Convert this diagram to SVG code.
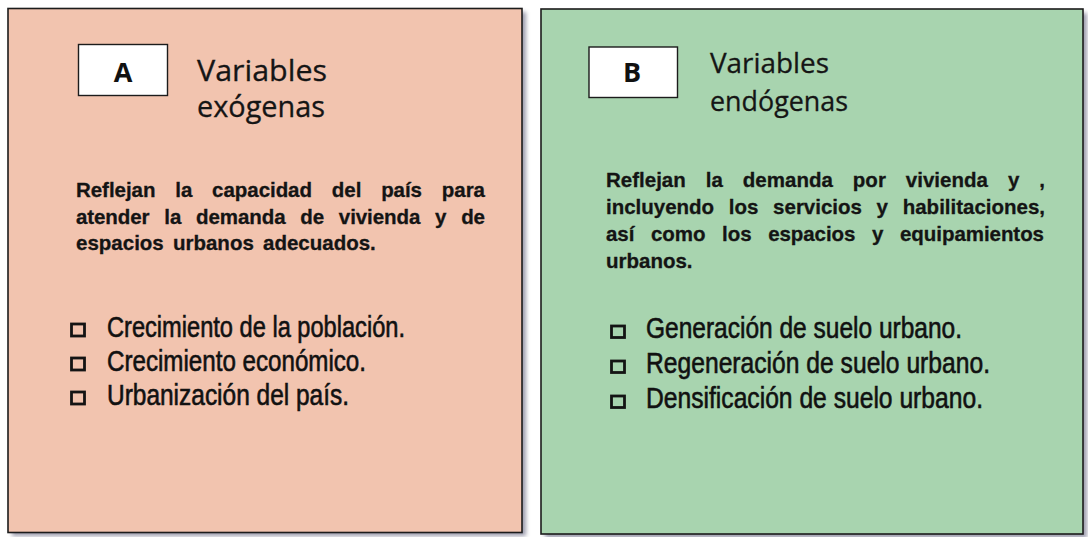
<svg xmlns="http://www.w3.org/2000/svg" width="1088" height="537" viewBox="0 0 1088 537">
<defs>
<filter id="sh" x="-5%" y="-5%" width="115%" height="115%">
<feGaussianBlur stdDeviation="2"/>
</filter>
</defs>
<style>
.panel{stroke:#1c1c1c;stroke-width:1.6}
.shadow{fill:#7c7c92;opacity:0.75}
.label{fill:#ffffff;stroke:#1c1c1c;stroke-width:1.4}
.letter{font-family:"Open Sans",Lato,sans-serif;font-weight:bold;font-size:27px;fill:#111;text-anchor:middle}
.title{font-family:"Open Sans",Lato,sans-serif;font-size:29px;fill:#151515;stroke:#151515;stroke-width:0.3}
.body{font-family:"Liberation Sans",Arial,sans-serif;font-weight:bold;font-size:20.5px;fill:#141414;stroke:#141414;stroke-width:0.3}
.item{font-family:"Liberation Sans Narrow","Liberation Sans",Arial,sans-serif;font-size:29px;fill:#111;stroke:#111;stroke-width:0.6}
.box{fill:none;stroke:#141414;stroke-width:2.8}
</style>
<rect width="1088" height="537" fill="#ffffff"/>

<g id="panelA">
<rect class="shadow" x="12" y="12" width="514" height="524" filter="url(#sh)"/>
<rect class="panel" x="8" y="8.5" width="514" height="524" fill="#F2C4AF"/>
<rect class="label" x="78.5" y="44.5" width="89" height="51"/>
<text class="letter" x="123" y="82">A</text>
<text class="title" x="197" y="81" textLength="130" lengthAdjust="spacingAndGlyphs">Variables</text>
<text class="title" x="197" y="117" textLength="128" lengthAdjust="spacingAndGlyphs">exógenas</text>
<text class="body" x="76" y="197" word-spacing="14.2" textLength="409" lengthAdjust="spacing">Reflejan la capacidad del país para</text>
<text class="body" x="76" y="224" word-spacing="9.2" textLength="409" lengthAdjust="spacing">atender la demanda de vivienda y de</text>
<text class="body" x="76" y="250" word-spacing="3.5">espacios urbanos adecuados.</text>
<rect class="box" x="71.5" y="324" width="13" height="12"/>
<rect class="box" x="71.5" y="358" width="13" height="12"/>
<rect class="box" x="71.5" y="392" width="13" height="12"/>
<text class="item" x="107" y="337" textLength="298" lengthAdjust="spacingAndGlyphs">Crecimiento de la población.</text>
<text class="item" x="107" y="371" textLength="259" lengthAdjust="spacingAndGlyphs">Crecimiento económico.</text>
<text class="item" x="107" y="405" textLength="242" lengthAdjust="spacingAndGlyphs">Urbanización del país.</text>
</g>

<g id="panelB">
<rect class="shadow" x="545" y="13" width="542" height="525" filter="url(#sh)"/>
<rect class="panel" x="541" y="9" width="542" height="525" fill="#A8D4AF"/>
<rect class="label" x="589" y="47" width="88.5" height="50.5"/>
<text class="letter" x="632" y="82">B</text>
<text class="title" x="710" y="73" textLength="119" lengthAdjust="spacingAndGlyphs" style="font-size:28px">Variables</text>
<text class="title" x="710" y="111" textLength="138" lengthAdjust="spacingAndGlyphs" style="font-size:28px">endógenas</text>
<text class="body" x="606" y="187" word-spacing="14.3" textLength="439" lengthAdjust="spacing">Reflejan la demanda por vivienda y ,</text>
<text class="body" x="606" y="214" word-spacing="9" textLength="439" lengthAdjust="spacing">incluyendo los servicios y habilitaciones,</text>
<text class="body" x="606" y="241" word-spacing="11" textLength="438" lengthAdjust="spacing">así como los espacios y equipamientos</text>
<text class="body" x="606" y="268">urbanos.</text>
<rect class="box" x="611.5" y="326" width="13" height="11.5"/>
<rect class="box" x="611.5" y="361" width="13" height="11.5"/>
<rect class="box" x="611.5" y="396" width="13" height="11.5"/>
<text class="item" x="646" y="338" textLength="316" lengthAdjust="spacingAndGlyphs">Generación de suelo urbano.</text>
<text class="item" x="646" y="373" textLength="344" lengthAdjust="spacingAndGlyphs">Regeneración de suelo urbano.</text>
<text class="item" x="646" y="408" textLength="337" lengthAdjust="spacingAndGlyphs">Densificación de suelo urbano.</text>
</g>

<g id="connectors"></g>
</svg>
